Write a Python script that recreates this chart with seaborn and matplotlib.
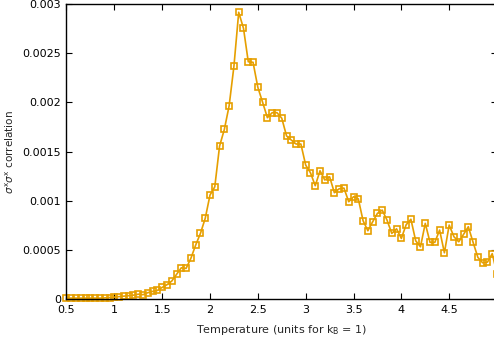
import matplotlib
matplotlib.use("Agg")
import matplotlib.pyplot as plt
import pandas as pd
import seaborn as sns

# temperatures (x) and measured sigma^x sigma^x correlation (y)
temperature = [
    0.5, 0.55, 0.6, 0.65, 0.7, 0.75, 0.8, 0.85, 0.9, 0.95,
    1.0, 1.05, 1.1, 1.15, 1.2, 1.25, 1.3, 1.35, 1.4, 1.45,
    1.5, 1.55, 1.6, 1.65, 1.7, 1.75, 1.8, 1.85, 1.9, 1.95,
    2.0, 2.05, 2.1, 2.15, 2.2, 2.25, 2.3, 2.35, 2.4, 2.45,
    2.5, 2.55, 2.6, 2.65, 2.7, 2.75, 2.8, 2.85, 2.9, 2.95,
    3.0, 3.05, 3.1, 3.15, 3.2, 3.25, 3.3, 3.35, 3.4, 3.45,
    3.5, 3.55, 3.6, 3.65, 3.7, 3.75, 3.8, 3.85, 3.9, 3.95,
    4.0, 4.05, 4.1, 4.15, 4.2, 4.25, 4.3, 4.35, 4.4, 4.45,
    4.5, 4.55, 4.6, 4.65, 4.7, 4.75, 4.8, 4.85, 4.9, 4.95,
    5.0,
]
correlation = [
    0.00001, 0.00001, 0.00001, 0.00001, 0.00001, 0.00001, 0.00001, 0.00001, 0.000012, 0.000016,
    0.00002, 0.000025, 0.00003, 0.000035, 0.00004, 0.00005, 0.000045, 0.000065, 0.000078, 0.000088,
    0.000119, 0.000146, 0.000183, 0.000251, 0.000318, 0.000312, 0.000414, 0.000549, 0.000668, 0.000821,
    0.001058, 0.001142, 0.001556, 0.001726, 0.001966, 0.002367, 0.002917, 0.002754, 0.002414, 0.002408,
    0.002154, 0.002001, 0.001845, 0.001896, 0.001896, 0.00184, 0.00166, 0.001617, 0.001577, 0.001577,
    0.001363, 0.001285, 0.001153, 0.001305, 0.001211, 0.001244, 0.001082, 0.001122, 0.001129, 0.00099,
    0.001041, 0.00102, 0.000797, 0.000695, 0.000786, 0.000872, 0.000905, 0.000804, 0.000668, 0.000715,
    0.000617, 0.000756, 0.000812, 0.000593, 0.000532, 0.00077, 0.000577, 0.000577, 0.000702, 0.000471,
    0.000753, 0.000634, 0.000583, 0.000658, 0.000736, 0.000577, 0.000424, 0.000369, 0.000376, 0.000462,
    0.000257,
]

xtick_values = [0.5, 1, 1.5, 2, 2.5, 3, 3.5, 4, 4.5]
xtick_labels = ["0.5", "1", "1.5", "2", "2.5", "3", "3.5", "4", "4.5"]
ytick_values = [0, 0.0005, 0.001, 0.0015, 0.002, 0.0025, 0.003]
ytick_labels = ["0", "0.0005", "0.001", "0.0015", "0.002", "0.0025", "0.003"]

df = pd.DataFrame({"T": temperature, "corr": correlation})

sns.set_style("ticks")
plt.rcParams["font.family"] = ["DejaVu Sans"]
plt.rcParams["mathtext.fontset"] = "dejavusans"

fig = plt.figure(figsize=(4.94, 3.43), dpi=100)
# the plot runs a little past the right edge of the canvas, as in the original
ax = fig.add_axes([0.1346, 0.128, 0.8715, 0.860])

color = "#E69F00"
sns.lineplot(
    data=df, x="T", y="corr", ax=ax, color=color, linewidth=1.2,
    marker="s", markersize=4.8, markerfacecolor="none",
    markeredgecolor=color, markeredgewidth=1.2, clip_on=False,
)

ax.set_xlim(0.5, 5.0)
ax.set_ylim(0, 0.003)
ax.set_xticks(xtick_values)
ax.set_xticklabels(xtick_labels)
ax.set_yticks(ytick_values)
ax.set_yticklabels(ytick_labels)
ax.tick_params(direction="in", length=4, width=0.8, top=True, right=True,
               labelsize=8, colors="black", pad=4)

for side in ["left", "bottom", "top"]:
    ax.spines[side].set_visible(True)
    ax.spines[side].set_color("black")
    ax.spines[side].set_linewidth(1.0)
ax.spines["right"].set_visible(False)

ax.set_xlabel(r"Temperature (units for k$_\mathrm{B}$ = 1)", fontsize=8, labelpad=6)
ax.set_ylabel(r"$\sigma^{\mathrm{x}}\sigma^{\mathrm{x}}$ correlation", fontsize=7.5)
ax.yaxis.set_label_coords(-0.117, 0.5)

fig.savefig("out.png", dpi=100)
